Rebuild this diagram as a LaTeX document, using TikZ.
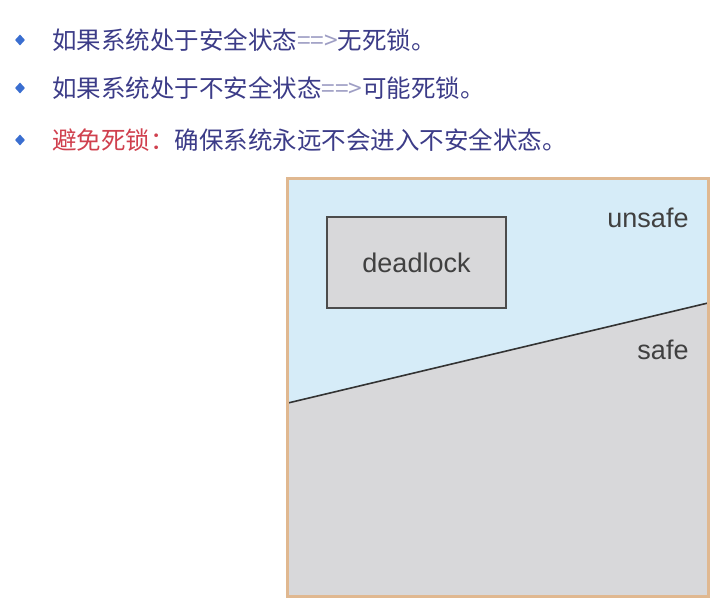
\documentclass[tikz,border=0pt]{standalone}
\usepackage{fontspec}
\setmainfont{Liberation Sans}
\newfontfamily\cjk{Noto Sans CJK SC}
\usetikzlibrary{shapes.geometric}
\definecolor{txt}{HTML}{3C3C88}
\definecolor{redtxt}{HTML}{D0404E}
\definecolor{bul}{HTML}{3A6ED0}
\definecolor{skyc}{HTML}{D6ECF8}
\definecolor{grayc}{HTML}{D8D8DA}
\definecolor{frame}{HTML}{E0B890}
\tikzset{
  bullet/.style={diamond,fill=bul,inner sep=0pt,minimum width=10pt,minimum height=11pt},
  line/.style={anchor=west,font=\cjk\fontsize{24.5}{28}\selectfont,text=txt,inner sep=0pt},
  lbl/.style={font=\fontsize{27}{30}\selectfont,text=black!75}
}
\begin{document}
\begin{tikzpicture}[x=1pt,y=1pt]
\useasboundingbox (0,0) rectangle (728,612);
\fill[white] (0,0) rectangle (728,612);
\node[bullet] (b1) at (20,572) {};
\node[bullet] (b2) at (20,524) {};
\node[bullet] (b3) at (20,472) {};
\node[line] (t1) at (52,572) {如果系统处于安全状态{\color{txt!50}==>}无死锁。};
\node[line] (t2) at (52,524) {如果系统处于不安全状态{\color{txt!50}==>}可能死锁。};
\node[line] (t3) at (52,472) {{\color{redtxt}避免死锁：}确保系统永远不会进入不安全状态。};
% diagram
\fill[skyc] (288,17) rectangle (708,433);
\fill[grayc] (288,17) -- (288,209) -- (708,309) -- (708,17) -- cycle;
\coordinate (lA) at (288,209);
\coordinate (lB) at (708,309);
\draw[black!80,line width=1.6pt] (lA) -- (lB);
\draw[frame,line width=3.5pt] (287.5,15.5) rectangle (708.5,433.5);
\node[draw=black!70,fill=grayc,line width=1.6pt,minimum width=179pt,minimum height=91pt,lbl] (dl) at (416.5,349.5) {deadlock};
\node[lbl] (us) at (648,394) {unsafe};
\node[lbl] (sf) at (663,262) {safe};
\end{tikzpicture}
\end{document}
